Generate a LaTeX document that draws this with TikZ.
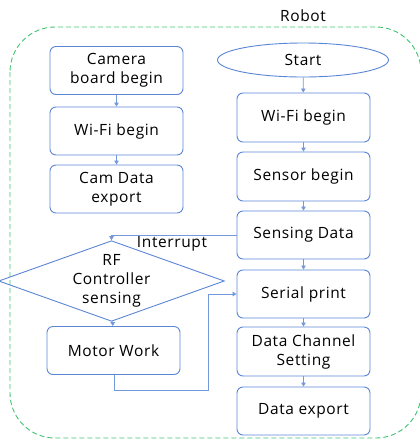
\documentclass[tikz,border=0pt]{standalone}
\usepackage{fontspec}
\setmainfont{Open Sans}[LetterSpace=4]
\usetikzlibrary{shapes.geometric,arrows.meta}
\definecolor{bx}{HTML}{5B86D6}
\definecolor{gr}{HTML}{3DC46E}
\tikzset{
  txt/.style={font=\fontsize{15.5}{19}\selectfont},
  stepbox/.style={txt, draw=bx, line width=0.9pt, rounded corners=6pt, minimum width=133pt, minimum height=48pt, align=center, inner sep=0pt},
  conn/.style={draw=bx!85, line width=0.8pt, -{Triangle[length=4pt,width=4.5pt]}},
}
\begin{document}
\begin{tikzpicture}[x=1pt,y=-1pt]
\useasboundingbox (0,0) rectangle (420,440);
\draw[gr, dashed, line width=0.9pt, dash pattern=on 5pt off 3pt, rounded corners=45pt] (10,27) rectangle (421,438);
\node[txt] (robot) at (303,16) {Robot};
% left column
\node[stepbox] (cam) at (116.5,70.5) {Camera\\board begin};
\node[stepbox] (wifiL) at (116.5,131) {Wi-Fi begin};
\node[stepbox] (camexp) at (116.5,189) {Cam Data\\export};
% right column
\node[txt, draw=bx, line width=0.9pt, ellipse, minimum width=171pt, minimum height=34pt, inner sep=0pt] (start) at (303,60) {Start};
\node[stepbox, minimum height=49pt] (wifiR) at (303.5,117.5) {Wi-Fi begin};
\node[stepbox, minimum height=49pt] (sensor) at (303.5,176.5) {Sensor begin};
\node[stepbox] (sensing) at (303.5,235) {Sensing Data};
\node[stepbox] (serial) at (303.5,294) {Serial print};
\node[stepbox, minimum height=49pt] (chan) at (303.5,351.5) {Data Channel\\Setting};
\node[stepbox] (export) at (303.5,411) {Data export};
% diamond
\node[txt, draw=bx, line width=0.9pt, diamond, minimum width=207pt, minimum height=74pt, inner sep=0pt, aspect=2.8, align=center] (rf) at (111.5,281) {RF\\Controller\\sensing};
\node[stepbox] (motor) at (113.5,350.5) {Motor Work};
\node[txt] (intr) at (172,244) {Interrupt};
\coordinate (m1) at (114,390);
\coordinate (m2) at (208,390);
% connectors
\draw[conn] (cam) -- (wifiL);
\draw[conn] (wifiL) -- (camexp);
\draw[conn] (start) -- (wifiR);
\draw[conn] (wifiR) -- (sensor);
\draw[conn] (sensor) -- (sensing);
\draw[conn] (sensing) -- (serial);
\draw[conn] (serial) -- (chan);
\draw[conn] (chan) -- (export);
\draw[conn] (rf) -- (motor);
\draw[conn] (sensing.west) -- (rf.north |- sensing.west) -- (rf.north);
\draw[conn] (motor.south -| m1) -- (m1) -- (m2) -- (m2 |- serial.west) -- (serial.west);
\end{tikzpicture}
\end{document}
